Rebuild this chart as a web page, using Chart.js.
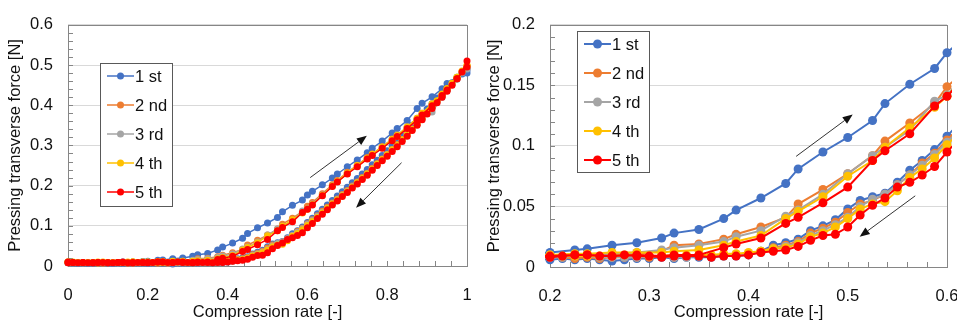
<!DOCTYPE html>
<html>
<head>
<meta charset="utf-8">
<script src="https://cdn.jsdelivr.net/npm/chart.js@4/dist/chart.umd.min.js"></script>
<style>
  body { margin: 0; background: #fff; }
  #wrap { position: relative; width: 957px; height: 324px; }
  .box { position: absolute; top: 0; height: 324px; }
</style>
</head>
<body>
<div id="wrap">
  <div class="box" style="left:0;width:480px"><canvas id="leftChart"></canvas></div>
  <div class="box" style="left:480px;width:477px"><canvas id="rightChart"></canvas></div>
</div>
<script>
// Compression rate steps: loading (0 -> 1) and unloading (1 -> 0)
const xLoad = [0, 0.0125, 0.0375, 0.0625, 0.075, 0.1, 0.125, 0.1375, 0.1625, 0.1875,
  0.2, 0.225, 0.2375, 0.2625, 0.2875, 0.3125, 0.325, 0.35, 0.375, 0.3875,
  0.4125, 0.4375, 0.45, 0.475, 0.5, 0.525, 0.5375, 0.5625, 0.5875, 0.6,
  0.6125, 0.6375, 0.6625, 0.675, 0.7, 0.725, 0.75, 0.7625, 0.7875, 0.8125,
  0.825, 0.85, 0.875, 0.8875, 0.9125, 0.9375, 0.95, 0.975, 1];
const xUnload = [1, 0.9875, 0.975, 0.9625, 0.95, 0.9375, 0.925, 0.9125, 0.9, 0.8875,
  0.875, 0.8625, 0.85, 0.8375, 0.825, 0.8125, 0.8, 0.7875, 0.775, 0.7625,
  0.75, 0.7375, 0.725, 0.7125, 0.7, 0.6875, 0.675, 0.6625, 0.65, 0.6375,
  0.625, 0.6125, 0.6, 0.5875, 0.575, 0.5625, 0.55, 0.5375, 0.525, 0.5125,
  0.5, 0.4875, 0.475, 0.4625, 0.45, 0.4375, 0.425, 0.4125, 0.4,
  0.3875, 0.375, 0.3625, 0.35, 0.3375, 0.325, 0.3125, 0.3,
  0.2875, 0.275, 0.2625, 0.25, 0.2375, 0.225, 0.2125, 0.2,
  0.1875, 0.175, 0.1625, 0.15, 0.1375, 0.125, 0.1125, 0.1,
  0.0875, 0.075, 0.0625, 0.05, 0.0375, 0.025, 0.0125, 0];

// Pressing transverse force [N], per cycle
const load1st = [0.010, 0.009, 0.008, 0.009, 0.008, 0.009, 0.009, 0.010, 0.010, 0.011,
  0.012, 0.014, 0.015, 0.018, 0.020, 0.024, 0.028, 0.031, 0.040, 0.047,
  0.057, 0.069, 0.081, 0.095, 0.107, 0.121, 0.135, 0.151, 0.164, 0.177,
  0.186, 0.202, 0.219, 0.229, 0.247, 0.264, 0.282, 0.293, 0.311, 0.331,
  0.342, 0.362, 0.392, 0.405, 0.421, 0.441, 0.454, 0.470, 0.480];
const unload1st = [0.488, 0.478, 0.468, 0.456, 0.444, 0.432, 0.418, 0.404, 0.391, 0.377,
  0.364, 0.350, 0.337, 0.324, 0.311, 0.299, 0.287, 0.275, 0.263, 0.252,
  0.240, 0.229, 0.218, 0.207, 0.196, 0.185, 0.174, 0.163, 0.152, 0.141,
  0.130, 0.119, 0.108, 0.097, 0.088, 0.080, 0.070, 0.061, 0.058, 0.055,
  0.048, 0.039, 0.034, 0.030, 0.023, 0.020, 0.018, 0.013, 0.010,
  0.009, 0.009, 0.008, 0.008, 0.008, 0.007, 0.008, 0.007,
  0.007, 0.006, 0.005, 0.006, 0.007, 0.006, 0.007, 0.006,
  0.007, 0.007, 0.006, 0.007, 0.006, 0.007, 0.006, 0.007,
  0.007, 0.006, 0.007, 0.006, 0.007, 0.006, 0.007, 0.008];

const load2nd = [0.009, 0.009, 0.008, 0.009, 0.009, 0.008, 0.009, 0.009, 0.010, 0.010,
  0.010, 0.010, 0.010, 0.011, 0.011, 0.013, 0.018, 0.019, 0.023, 0.027,
  0.033, 0.041, 0.052, 0.064, 0.077, 0.092, 0.104, 0.119, 0.135, 0.149,
  0.158, 0.180, 0.202, 0.213, 0.233, 0.251, 0.270, 0.279, 0.297, 0.316,
  0.326, 0.346, 0.368, 0.380, 0.402, 0.426, 0.440, 0.468, 0.492];
const unload2nd = [0.498, 0.483, 0.468, 0.453, 0.439, 0.424, 0.410, 0.396, 0.382, 0.368,
  0.354, 0.341, 0.328, 0.315, 0.302, 0.290, 0.278, 0.266, 0.255, 0.243,
  0.231, 0.220, 0.209, 0.199, 0.188, 0.178, 0.167, 0.157, 0.146, 0.136,
  0.125, 0.115, 0.105, 0.094, 0.086, 0.076, 0.068, 0.060, 0.055, 0.052,
  0.045, 0.037, 0.032, 0.028, 0.021, 0.018, 0.016, 0.013, 0.011,
  0.010, 0.010, 0.009, 0.009, 0.009, 0.008, 0.009, 0.008,
  0.008, 0.008, 0.008, 0.007, 0.008, 0.007, 0.008, 0.008,
  0.008, 0.008, 0.007, 0.007, 0.008, 0.008, 0.008, 0.008,
  0.007, 0.007, 0.008, 0.008, 0.008, 0.008, 0.008, 0.008];

const load3rd = [0.009, 0.008, 0.009, 0.008, 0.009, 0.009, 0.008, 0.009, 0.009, 0.010,
  0.010, 0.010, 0.010, 0.011, 0.012, 0.014, 0.016, 0.018, 0.021, 0.025,
  0.030, 0.042, 0.047, 0.060, 0.077, 0.092, 0.099, 0.113, 0.137, 0.142,
  0.154, 0.177, 0.199, 0.210, 0.230, 0.248, 0.267, 0.276, 0.294, 0.313,
  0.323, 0.343, 0.362, 0.372, 0.383, 0.420, 0.436, 0.465, 0.490];
const unload3rd = [0.495, 0.481, 0.466, 0.451, 0.437, 0.422, 0.408, 0.394, 0.380, 0.366,
  0.352, 0.339, 0.326, 0.313, 0.300, 0.288, 0.276, 0.264, 0.253, 0.241,
  0.229, 0.218, 0.207, 0.197, 0.186, 0.176, 0.165, 0.155, 0.144, 0.134,
  0.123, 0.113, 0.103, 0.093, 0.084, 0.076, 0.068, 0.060, 0.056, 0.050,
  0.041, 0.035, 0.030, 0.026, 0.020, 0.017, 0.015, 0.012, 0.011,
  0.010, 0.009, 0.009, 0.009, 0.008, 0.008, 0.009, 0.009,
  0.008, 0.008, 0.008, 0.008, 0.009, 0.009, 0.008, 0.008,
  0.008, 0.008, 0.009, 0.009, 0.008, 0.008, 0.008, 0.008,
  0.009, 0.009, 0.008, 0.008, 0.008, 0.008, 0.009, 0.009];

const load4th = [0.010, 0.009, 0.009, 0.009, 0.008, 0.009, 0.009, 0.009, 0.010, 0.010,
  0.010, 0.011, 0.011, 0.012, 0.012, 0.012, 0.013, 0.014, 0.018, 0.021,
  0.026, 0.040, 0.046, 0.058, 0.075, 0.088, 0.099, 0.115, 0.132, 0.141,
  0.153, 0.176, 0.199, 0.210, 0.231, 0.250, 0.268, 0.278, 0.296, 0.315,
  0.325, 0.346, 0.368, 0.380, 0.404, 0.428, 0.442, 0.470, 0.498];
const unload4th = [0.500, 0.485, 0.470, 0.455, 0.440, 0.425, 0.411, 0.396, 0.382, 0.368,
  0.354, 0.340, 0.327, 0.314, 0.301, 0.289, 0.277, 0.265, 0.253, 0.241,
  0.229, 0.218, 0.207, 0.196, 0.185, 0.175, 0.164, 0.154, 0.143, 0.132,
  0.121, 0.111, 0.101, 0.090, 0.081, 0.074, 0.063, 0.054, 0.052, 0.048,
  0.040, 0.033, 0.028, 0.025, 0.019, 0.016, 0.015, 0.013, 0.012,
  0.011, 0.011, 0.010, 0.010, 0.010, 0.010, 0.009, 0.009,
  0.010, 0.010, 0.009, 0.009, 0.009, 0.009, 0.009, 0.009,
  0.009, 0.009, 0.010, 0.010, 0.009, 0.009, 0.009, 0.009,
  0.010, 0.010, 0.009, 0.009, 0.009, 0.009, 0.010, 0.010];

const load5th = [0.010, 0.009, 0.009, 0.008, 0.009, 0.008, 0.009, 0.010, 0.009, 0.009,
  0.009, 0.010, 0.010, 0.009, 0.010, 0.009, 0.010, 0.010, 0.016, 0.019,
  0.024, 0.036, 0.041, 0.053, 0.066, 0.088, 0.096, 0.110, 0.133, 0.141,
  0.152, 0.175, 0.198, 0.209, 0.229, 0.247, 0.266, 0.275, 0.293, 0.312,
  0.322, 0.342, 0.364, 0.376, 0.399, 0.424, 0.438, 0.466, 0.495];
const unload5th = [0.510, 0.483, 0.466, 0.450, 0.435, 0.420, 0.406, 0.392, 0.378, 0.364,
  0.350, 0.337, 0.323, 0.310, 0.297, 0.285, 0.273, 0.262, 0.250, 0.238,
  0.226, 0.215, 0.204, 0.194, 0.183, 0.173, 0.162, 0.152, 0.140, 0.129,
  0.118, 0.106, 0.095, 0.083, 0.076, 0.070, 0.066, 0.057, 0.051, 0.043,
  0.033, 0.027, 0.026, 0.022, 0.017, 0.014, 0.013, 0.012, 0.010,
  0.009, 0.009, 0.008, 0.009, 0.009, 0.009, 0.008, 0.009,
  0.009, 0.010, 0.009, 0.009, 0.010, 0.010, 0.009, 0.008,
  0.009, 0.009, 0.008, 0.008, 0.009, 0.009, 0.008, 0.008,
  0.009, 0.009, 0.008, 0.008, 0.009, 0.008, 0.009, 0.008];

const seriesNames = ['1 st', '2 nd', '3 rd', '4 th', '5 th'];
const seriesColors = ['#4472C4', '#ED7D31', '#A5A5A5', '#FFC000', '#FF0000'];
const loadSets = [load1st, load2nd, load3rd, load4th, load5th];
const unloadSets = [unload1st, unload2nd, unload3rd, unload4th, unload5th];

const FONT = "'Liberation Sans', Arial, sans-serif";
const TEXT = '#111';
const AXIS = '#868686';

function buildDatasets(radius, width) {
  return seriesNames.map((name, i) => {
    const pts = xLoad.map((x, k) => ({ x: x, y: loadSets[i][k] }))
      .concat(xUnload.map((x, k) => ({ x: x, y: unloadSets[i][k] })));
    return {
      label: name,
      data: pts,
      borderColor: seriesColors[i],
      backgroundColor: seriesColors[i],
      pointBackgroundColor: seriesColors[i],
      pointBorderColor: seriesColors[i],
      pointBorderWidth: 0,
      pointRadius: radius,
      borderWidth: width,
      tension: 0,
      order: seriesNames.length - i,
      clip: 5
    };
  });
}

function drawArrow(ctx, x0, y0, x1, y1) {
  const ang = Math.atan2(y1 - y0, x1 - x0);
  const len = 10, half = 4;
  const bx = x1 - len * Math.cos(ang), by = y1 - len * Math.sin(ang);
  ctx.beginPath();
  ctx.moveTo(x0, y0);
  ctx.lineTo(bx, by);
  ctx.stroke();
  ctx.beginPath();
  ctx.moveTo(x1, y1);
  ctx.lineTo(bx + half * Math.sin(ang), by - half * Math.cos(ang));
  ctx.lineTo(bx - half * Math.sin(ang), by + half * Math.cos(ang));
  ctx.closePath();
  ctx.fill();
}

// plot frame, inner minor ticks and arrows
const framePlugin = {
  id: 'frame',
  beforeDatasetsDraw(chart, args, opts) {
    const { ctx, chartArea: a, scales: { x, y } } = chart;
    ctx.save();
    ctx.strokeStyle = AXIS;
    ctx.lineWidth = 1;
    ctx.strokeRect(Math.round(a.left) + 0.5, Math.round(a.top) + 0.5,
      Math.round(a.right - a.left), Math.round(a.bottom - a.top));

    const ny = Math.round((y.max - y.min) / opts.yMinor);
    ctx.beginPath();
    for (let k = 0; k <= ny; k++) {
      const py = Math.round(y.getPixelForValue(y.min + k * opts.yMinor)) + 0.5;
      ctx.moveTo(a.left, py);
      ctx.lineTo(a.left + 5, py);
    }
    const nx = Math.round((x.max - x.min) / opts.xMinor);
    for (let k = 0; k <= nx; k++) {
      const px = Math.round(x.getPixelForValue(x.min + k * opts.xMinor)) + 0.5;
      ctx.moveTo(px, a.bottom);
      ctx.lineTo(px, a.bottom - 5);
    }
    ctx.stroke();

    ctx.strokeStyle = '#333';
    ctx.fillStyle = '#111';
    ctx.lineWidth = 1;
    opts.arrows.forEach(ar => {
      drawArrow(ctx, x.getPixelForValue(ar[0]), y.getPixelForValue(ar[1]),
        x.getPixelForValue(ar[2]), y.getPixelForValue(ar[3]));
    });
    ctx.restore();
  },
  afterDatasetsDraw(chart, args, opts) {
    const { ctx } = chart;
    const b = opts.legend;
    ctx.save();
    ctx.fillStyle = '#fff';
    ctx.fillRect(b.left, b.top, b.width, b.height);
    ctx.strokeStyle = '#595959';
    ctx.lineWidth = 1;
    ctx.strokeRect(b.left + 0.5, b.top + 0.5, b.width, b.height);
    ctx.font = '16.5px ' + FONT;
    ctx.textBaseline = 'middle';
    ctx.textAlign = 'left';
    seriesNames.forEach((name, i) => {
      const cy = b.top + 13 + i * 29;
      ctx.strokeStyle = seriesColors[i];
      ctx.lineWidth = b.lineWidth;
      ctx.beginPath();
      ctx.moveTo(b.left + 7, cy);
      ctx.lineTo(b.left + 34, cy);
      ctx.stroke();
      ctx.fillStyle = seriesColors[i];
      ctx.beginPath();
      ctx.arc(b.left + 20.5, cy, b.radius, 0, Math.PI * 2);
      ctx.fill();
      ctx.fillStyle = TEXT;
      ctx.fillText(name, b.left + 35, cy + 1);
    });
    ctx.restore();
  }
};

const fmt = v => String(+v.toFixed(2));

function makeChart(id, cfg) {
  const ctx = document.getElementById(id).getContext('2d');
  return new Chart(ctx, {
    type: 'line',
    data: { datasets: buildDatasets(cfg.radius, cfg.lineWidth) },
    options: {
      responsive: true,
      maintainAspectRatio: false,
      animation: false,
      devicePixelRatio: 1,
      events: [],
      layout: { padding: { top: cfg.padTop, right: cfg.padRight, bottom: 0, left: 0 } },
      plugins: {
        legend: { display: false },
        tooltip: { enabled: false },
        frame: { xMinor: cfg.xMinor, yMinor: cfg.yMinor, arrows: cfg.arrows, legend: cfg.legend }
      },
      scales: {
        x: {
          type: 'linear',
          min: cfg.xMin, max: cfg.xMax,
          afterFit: s => { s.height = cfg.xHeight; s.paddingLeft = 0; s.paddingRight = 0; },
          ticks: {
            stepSize: cfg.xStep, padding: 12, color: TEXT, maxRotation: 0,
            font: { family: FONT, size: 16.5 }, callback: fmt
          },
          grid: { display: false },
          border: { display: false },
          title: {
            display: true, text: 'Compression rate [-]', color: TEXT,
            font: { family: FONT, size: 16.5 }, padding: { top: 0, bottom: 2 }
          }
        },
        y: {
          type: 'linear',
          min: cfg.yMin, max: cfg.yMax,
          afterFit: s => { s.width = cfg.yWidth; },
          ticks: {
            stepSize: cfg.yStep, padding: 15, color: TEXT,
            font: { family: FONT, size: 16.5 }, callback: fmt
          },
          grid: { color: '#D9D9D9', drawTicks: false },
          border: { display: false },
          title: {
            display: true, text: 'Pressing transverse force [N]', color: TEXT,
            font: { family: FONT, size: 16.5 }, padding: { top: cfg.titlePad, bottom: 0 }
          }
        }
      }
    },
    plugins: [framePlugin]
  });
}

makeChart('leftChart', {
  radius: 3.5, lineWidth: 1.5,
  xMin: 0, xMax: 1, xStep: 0.2, xMinor: 0.04,
  yMin: 0, yMax: 0.6, yStep: 0.1, yMinor: 0.02,
  padTop: 9, padRight: 13, xHeight: 58, yWidth: 68, titlePad: 6,
  arrows: [[0.607, 0.220, 0.749, 0.324], [0.836, 0.257, 0.722, 0.145]],
  legend: { left: 100, top: 63, width: 72, height: 143, radius: 3.5, lineWidth: 1.5 }
});

makeChart('rightChart', {
  radius: 4.5, lineWidth: 2,
  xMin: 0.2, xMax: 0.6, xStep: 0.1, xMinor: 0.02,
  yMin: 0, yMax: 0.2, yStep: 0.05, yMinor: 0.01,
  padTop: 11, padRight: 10, xHeight: 57, yWidth: 70, titlePad: 5,
  arrows: [[0.448, 0.0914, 0.505, 0.126], [0.568, 0.0588, 0.512, 0.025]],
  legend: { left: 97, top: 31, width: 72, height: 141, radius: 4.5, lineWidth: 2 }
});
</script>
</body>
</html>
